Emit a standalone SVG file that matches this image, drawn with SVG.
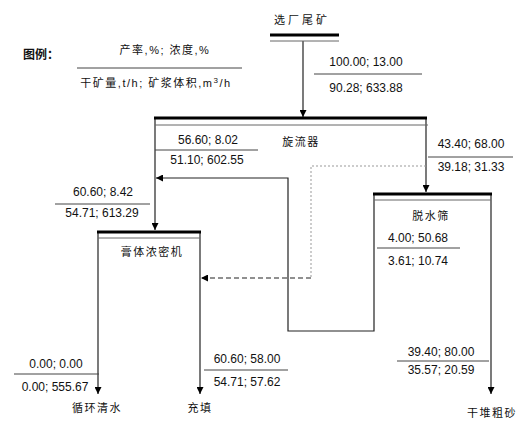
<svg xmlns="http://www.w3.org/2000/svg" width="532" height="437" viewBox="0 0 532 437">
<style>
text{font-family:"Liberation Sans","Noto Sans CJK SC",sans-serif;fill:#111;}
.num{font-size:12px;text-anchor:middle;}
.cn{font-size:11px;text-anchor:middle;letter-spacing:1.5px;}
.thick{stroke:#000;stroke-width:3;fill:none;}
.thin{stroke:#666;stroke-width:1;fill:none;}
.sep{stroke:#444;stroke-width:1;fill:none;}
.flow{stroke:#222;stroke-width:1.2;fill:none;}
</style>
<defs>
<marker id="ah" viewBox="0 0 8 8" refX="8" refY="4" markerWidth="7" markerHeight="7" orient="auto" markerUnits="userSpaceOnUse">
<path d="M0,0 L8,4 L0,8 z" fill="#000"/>
</marker>
</defs>

<g id="legend">
<text x="23" y="59" style="font-size:12px;font-weight:bold;">图例：</text>
<text x="165" y="54" class="cn">产率,%;  浓度,%</text>
<line x1="77" y1="68" x2="242" y2="68" class="sep"/>
<text x="156" y="87" class="cn">干矿量,t/h; 矿浆体积,m<tspan dy="-4" style="font-size:8px">3</tspan><tspan dy="4">/h</tspan></text>
</g>

<g id="connectors">
<path d="M303 41 V117" class="flow" marker-end="url(#ah)"/>
<path d="M426 118 V192" class="flow" marker-end="url(#ah)"/>
<path d="M155 118 V230" class="flow" marker-end="url(#ah)"/>
<path d="M374 194 V331 H288 V178 H156" class="flow" marker-end="url(#ah)"/>
<path d="M426 166 H311 V278" stroke="#999" stroke-width="1" stroke-dasharray="2,2" fill="none"/>
<path d="M311 278 H201" stroke="#222" stroke-width="1.2" stroke-dasharray="5,3" fill="none" marker-end="url(#ah)"/>
<path d="M98 232 V394" class="flow" marker-end="url(#ah)"/>
<path d="M200 232 V394" class="flow" marker-end="url(#ah)"/>
<path d="M491 194 V394" class="flow" marker-end="url(#ah)"/>
</g>

<g id="tailings">
<text x="302" y="24" class="cn" style="letter-spacing:3px">选厂尾矿</text>
<line x1="270" y1="35" x2="339" y2="35" class="thick"/>
<line x1="270" y1="41" x2="339" y2="41" class="thin"/>
</g>

<g id="cyclone">
<line x1="154" y1="118" x2="427" y2="118" class="thick"/>
<line x1="155" y1="125" x2="428" y2="125" class="thin"/>
<text x="301" y="146" class="cn">旋流器</text>
</g>

<g id="screen">
<line x1="373" y1="194" x2="492" y2="194" class="thick"/>
<line x1="374" y1="200" x2="491" y2="200" class="thin"/>
<text x="431" y="220" class="cn">脱水筛</text>
</g>

<g id="thickener">
<line x1="97" y1="232" x2="201" y2="232" class="thick"/>
<line x1="98" y1="238" x2="200" y2="238" class="thin"/>
<text x="152" y="256" class="cn">膏体浓密机</text>
</g>

<g id="out-water">
<text x="97" y="412" class="cn">循环清水</text>
</g>
<g id="out-fill">
<text x="200" y="412" class="cn">充填</text>
</g>
<g id="out-sand">
<text x="492" y="417" class="cn">干堆粗砂</text>
</g>

<g id="labels">
<text x="366" y="66" class="num">100.00; 13.00</text>
<line x1="314" y1="74" x2="422" y2="74" class="sep"/>
<text x="366" y="92" class="num">90.28; 633.88</text>

<text x="208" y="144" class="num">56.60; 8.02</text>
<line x1="155" y1="150" x2="258" y2="150" class="sep"/>
<text x="207" y="164" class="num">51.10; 602.55</text>

<text x="103" y="196" class="num">60.60; 8.42</text>
<line x1="55" y1="204" x2="150" y2="204" class="sep"/>
<text x="102" y="217" class="num">54.71; 613.29</text>

<text x="471" y="148" class="num">43.40; 68.00</text>
<line x1="428" y1="157" x2="513" y2="157" class="sep"/>
<text x="471" y="171" class="num">39.18; 31.33</text>

<text x="418" y="242" class="num">4.00; 50.68</text>
<line x1="377" y1="248" x2="460" y2="248" class="sep"/>
<text x="418" y="265" class="num">3.61; 10.74</text>

<text x="56" y="368" class="num">0.00; 0.00</text>
<line x1="14" y1="374" x2="99" y2="374" class="sep"/>
<text x="55" y="391" class="num">0.00; 555.67</text>

<text x="247" y="363" class="num">60.60; 58.00</text>
<line x1="204" y1="370" x2="288" y2="370" class="sep"/>
<text x="247" y="386" class="num">54.71; 57.62</text>

<text x="441" y="356" class="num">39.40; 80.00</text>
<line x1="397" y1="361" x2="489" y2="361" class="sep"/>
<text x="441" y="374" class="num">35.57; 20.59</text>
</g>
</svg>
